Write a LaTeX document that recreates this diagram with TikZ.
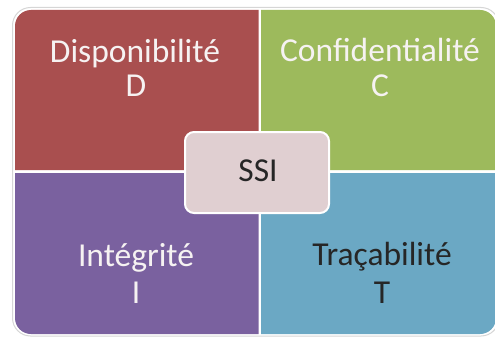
\documentclass[tikz,border=0pt]{standalone}
\usepackage{fontspec}
\setmainfont{Carlito}
\definecolor{qred}{RGB}{169,79,79}
\definecolor{qgreen}{RGB}{157,186,92}
\definecolor{qpurple}{RGB}{122,97,159}
\definecolor{qblue}{RGB}{107,168,196}
\definecolor{core}{RGB}{224,207,209}
\definecolor{rim}{RGB}{214,214,214}
\definecolor{softwhite}{RGB}{246,242,242}
\begin{document}
\begin{tikzpicture}[x=1pt,y=1pt,
  lbl/.style={font=\fontsize{33.5}{36}\selectfont, inner sep=0pt, anchor=base},
  lightlbl/.style={lbl, text=softwhite},
  darklbl/.style={lbl, text=black!85},
  corebox/.style={fill=core, draw=white, line width=2pt, rounded corners=9pt,
    minimum width=144pt, minimum height=81pt, inner sep=0pt}]
\useasboundingbox (0,0) rectangle (495,338);
% outer frame with a faint grey rim
\filldraw[rim, fill=white, line width=1pt, rounded corners=18pt] (12.5,2) rectangle (499,330.5);
% four quadrants, each rounded at its outer corner
\fill[qred] (258.5,168) -- (15,168) -- (15,312) arc[start angle=180, end angle=90, radius=16] -- (258.5,328) -- cycle;
\fill[qgreen] (261,168) -- (261,328) -- (480,328) arc[start angle=90, end angle=0, radius=16] -- (496,168) -- cycle;
\fill[qpurple] (258.5,165) -- (15,165) -- (15,20) arc[start angle=180, end angle=270, radius=16] -- (258.5,4) -- cycle;
\fill[qblue] (261,165) -- (261,4) -- (480,4) arc[start angle=270, end angle=360, radius=16] -- (496,165) -- cycle;
% quadrant labels
\node[lightlbl] (dname) at (135,275) {Disponibilité};
\node[lightlbl] (dletter) at (136,241) {D};
\node[lightlbl] (cname) at (380,276) {Confidentialité};
\node[lightlbl] (cletter) at (380,241) {C};
\node[lightlbl] (iname) at (136,72) {Intégrité};
\node[lightlbl] (iletter) at (136,35) {I};
\node[darklbl] (tname) at (382,73) {Traçabilité};
\node[darklbl] (tletter) at (382,35) {T};
% central box
\node[corebox] (ssi) at (257,165.5) {};
\node[darklbl] (ssilabel) at (258,157) {SSI};
\end{tikzpicture}
\end{document}
